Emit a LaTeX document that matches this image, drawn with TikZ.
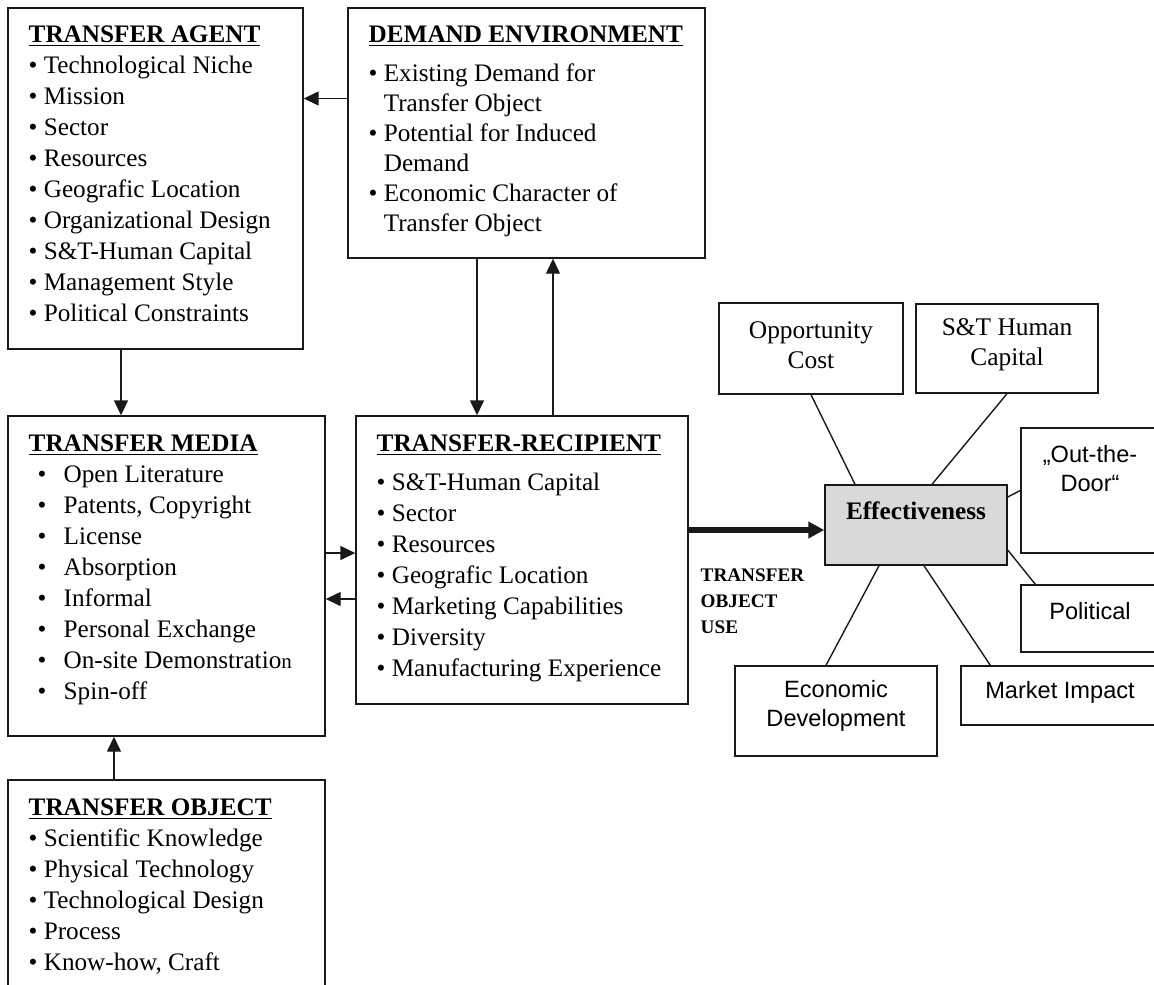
\documentclass[tikz,border=0pt]{standalone}
\usepackage{fontspec}
\setmainfont{Liberation Serif}
\setsansfont{Liberation Sans}
\usetikzlibrary{positioning, arrows.meta, fit, calc}
\definecolor{effgrey}{RGB}{217,217,217}
\definecolor{ink}{RGB}{25,25,25}
\newcommand{\hd}[1]{\underline{\textbf{#1}}}
\newcommand{\itm}{\textbullet\ }
\newcommand{\cont}{\phantom{\textbullet}\ }
\newcommand{\tabitm}{\hspace*{4.5pt}\makebox[13pt][l]{\textbullet}}

\begin{document}
\begin{tikzpicture}[
    x=0.5pt, y=-0.5pt,
    line width=0.7pt,
    every node/.style={text=black},
    box/.style={draw=ink, inner sep=0pt},
    effbox/.style={box, fill=effgrey},
    lst/.style={anchor=north west, align=left, inner sep=0pt, font=\fontsize{12.6}{15.5}\selectfont},
    rtxt/.style={align=center, inner sep=0pt, font=\fontsize{12.7}{15}\selectfont},
    stxt/.style={rtxt, font=\sffamily\fontsize{11.8}{14.5}\selectfont},
    uselbl/.style={anchor=north west, align=left, inner sep=0pt, font=\bfseries\fontsize{9.6}{13}\selectfont},
    arr/.style={draw=ink, -{Triangle[length=7.5pt,width=7pt]}},
    fatarr/.style={draw=ink, -{Triangle[length=8pt,width=8pt]}, line width=2.6pt},
    spoke/.style={draw=ink},
]
\clip (0,0) rectangle (1154,984);

% ------------------------------------------------------------ left column ---
\node[box, fit={(8,8) (303,349)}] (agent) {};
\node[lst] (agenttxt) at (28,25) {\hd{TRANSFER AGENT}\\
  \itm Technological Niche\\ \itm Mission\\ \itm Sector\\ \itm Resources\\
  \itm Geografic Location\\ \itm Organizational Design\\ \itm S\&T-Human Capital\\
  \itm Management Style\\ \itm Political Constraints};

\node[box, fit={(8,416) (325,736)}] (media) {};
\node[lst] (mediatxt) at (28,434) {\hd{TRANSFER MEDIA}\\
  \tabitm Open Literature\\ \tabitm Patents, Copyright\\ \tabitm License\\
  \tabitm Absorption\\ \tabitm Informal\\ \tabitm Personal Exchange\\
  \tabitm On-site Demonstratio{\fontsize{10.5}{12}\selectfont n}\\ \tabitm Spin-off};

\node[box, fit={(8,780) (325,1010)}] (object) {};
\node[lst] (objecttxt) at (28,798) {\hd{TRANSFER OBJECT}\\
  \itm Scientific Knowledge\\ \itm Physical Technology\\ \itm Technological Design\\
  \itm Process\\ \itm Know-how, Craft};

% ---------------------------------------------------------- middle column ---
\node[box, fit={(348,8) (705,258)}] (dem) {};
\node[lst, font=\fontsize{12.6}{15}\selectfont] (demtxt) at (368,25) {\hd{DEMAND ENVIRONMENT}\\[4.5pt]
  \itm Existing Demand for\\ \cont Transfer Object\\
  \itm Potential for Induced\\ \cont Demand\\
  \itm Economic Character of\\ \cont Transfer Object};

\node[box, fit={(356,416) (688,704)}] (rec) {};
\node[lst] (rectxt) at (376,434) {\hd{TRANSFER-RECIPIENT}\\[4pt]
  \itm S\&T-Human Capital\\ \itm Sector\\ \itm Resources\\ \itm Geografic Location\\
  \itm Marketing Capabilities\\ \itm Diversity\\ \itm Manufacturing Experience};

% ----------------------------------------------------------- effectiveness ---
\node[effbox, fit={(825,485) (1007,565)}] (eff) {};
\node[rtxt, font=\bfseries\fontsize{12.6}{15}\selectfont] (efftxt) at (916,511) {Effectiveness};

\node[box, fit={(719,303) (903,394)}] (opp) {};
\node[rtxt] (opptxt) at (811,345) {Opportunity\\Cost};
\node[box, fit={(916,304) (1098,393)}] (st) {};
\node[rtxt] (sttxt) at (1007,345) {S\&T Human\\Capital};
\node[box, fit={(1021,428) (1180,553)}] (door) {};
\node[stxt] (doortxt) at (1090,469) {„Out-the-\\Door“};
\node[box, fit={(1021,585) (1180,652)}] (pol) {};
\node[stxt] (poltxt) at (1090,611) {Political};
\node[box, fit={(735,666) (937,756)}] (econ) {};
\node[stxt] (econtxt) at (836,706) {Economic\\Development};
\node[box, fit={(961,666) (1180,725)}] (mkt) {};
\node[stxt] (mkttxt) at (1060,692) {Market Impact};

\node[uselbl] (uselbl) at (700,568) {TRANSFER\\OBJECT\\USE};

% -------------------------------------------------------------- arrows ---
\coordinate (a1) at ($(dem.west)+(0,-34.5)$);
\draw[arr] (a1) -- (a1 -| agent.east);
\coordinate (a2) at ($(agent.south)+(-34.5,0)$);
\draw[arr] (a2) -- (a2 |- media.north);
\coordinate (a3) at ($(object.north)+(-52.5,0)$);
\draw[arr] (a3) -- (a3 |- media.south);
\coordinate (a4) at ($(dem.south)+(-49.5,0)$);
\draw[arr] (a4) -- (a4 |- rec.north);
\coordinate (a5) at ($(rec.north)+(31,0)$);
\draw[arr] (a5) -- (a5 |- dem.south);
\coordinate (a6) at ($(media.east)+(0,-23)$);
\draw[arr] (a6) -- (a6 -| rec.west);
\coordinate (a7) at ($(rec.west)+(0,39)$);
\draw[arr] (a7) -- (a7 -| media.east);
\coordinate (a8) at ($(eff.west)+(0,5)$);
\draw[fatarr] (a8 -| rec.east) -- (a8);

% -------------------------------------------------------------- spokes ---
\draw[spoke] (opp.south) -- ($(eff.north)+(-61,0)$);
\draw[spoke] (st.south) -- ($(eff.north)+(16,0)$);
\draw[spoke] ($(eff.east)+(0,-28)$) -- (door.west);
\draw[spoke] ($(eff.east)+(0,25)$) -- ($(pol.north west)+(15,0)$);
\draw[spoke] ($(eff.south)+(-37,0)$) -- ($(econ.north)+(-10,0)$);
\draw[spoke] ($(eff.south)+(8,0)$) -- ($(mkt.north west)+(30,0)$);

\end{tikzpicture}
\end{document}
